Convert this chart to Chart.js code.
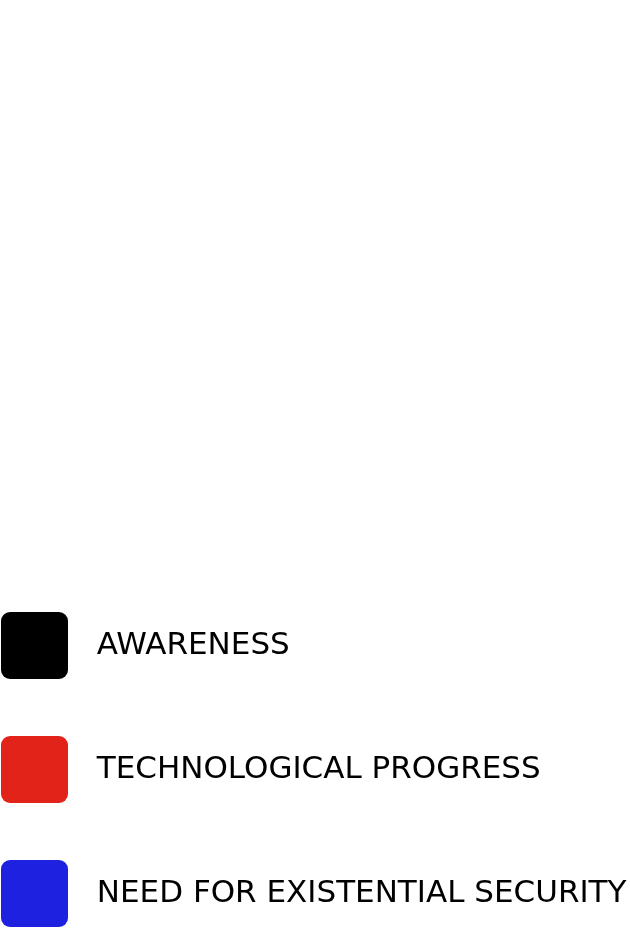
<!DOCTYPE html>
<html>
<head>
<meta charset="utf-8">
<script src="https://cdn.jsdelivr.net/npm/chart.js@4/dist/chart.umd.min.js"></script>
<style>
    html, body { margin: 0; padding: 0; background: #fff; overflow: hidden; }
    #wrap { position: absolute; left: -56px; top: 0; width: 686px; height: 937px; }
</style>
</head>
<body>
<div id="wrap"><canvas id="chart"></canvas></div>
<script>
// the plot area of the reference is blank: only the legend shows
const categories = [];
const awareness = [];
const technologicalProgress = [];
const existentialSecurity = [];

const seriesNames = ['AWARENESS', 'TECHNOLOGICAL PROGRESS', 'NEED FOR EXISTENTIAL SECURITY'];
const seriesColors = ['#000000', '#e2231a', '#1e22e0'];
const seriesValues = [awareness, technologicalProgress, existentialSecurity];

const datasets = seriesNames.map((name, i) => {
    return {
        label: name,
        data: seriesValues[i],
        borderColor: seriesColors[i],
        backgroundColor: seriesColors[i],
        borderWidth: 0,
    };
});

new Chart(document.getElementById('chart').getContext('2d'), {
    type: 'line',
    data: {
        labels: categories,
        datasets: datasets,
    },
    options: {
        responsive: true,
        maintainAspectRatio: false,
        animation: false,
        layout: {padding: 0},
        scales: {
            x: {display: false},
            y: {display: false},
        },
        plugins: {
            tooltip: {enabled: false},
            legend: {
                position: 'bottom',
                align: 'start',
                labels: {
                    boxWidth: 67,
                    boxHeight: 67,
                    padding: 57,
                    useBorderRadius: true,
                    borderRadius: 9,
                    color: '#000000',
                    font: {family: 'DejaVu Sans', size: 31},
                    generateLabels: (chart) => chart.data.datasets.map((ds, i) => ({
                        // extra space widens the gap between box and text
                        text: '\u2004\u200A' + ds.label,
                        fillStyle: ds.backgroundColor,
                        strokeStyle: ds.backgroundColor,
                        lineWidth: 0,
                        fontColor: '#000000',
                        hidden: false,
                        borderRadius: 9,
                        datasetIndex: i,
                    })),
                },
            },
        },
    },
});
</script>
</body>
</html>
